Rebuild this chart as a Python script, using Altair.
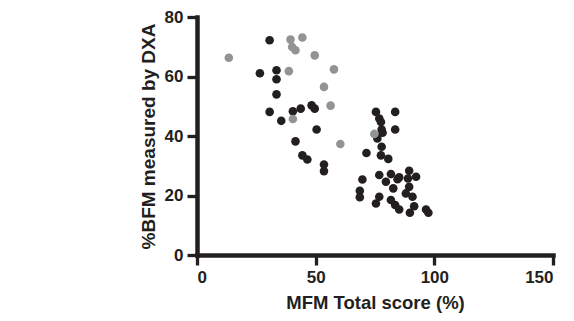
import altair as alt
import pandas as pd

gray_x = [13.4, 39.4, 44.4, 40.1, 41.5, 49.6, 57.7, 38.7, 53.5, 56.3, 40.4, 60.4, 74.7]
gray_y = [66.3, 72.4, 73.1, 69.9, 68.8, 67.1, 62.4, 61.8, 56.5, 50.2, 45.7, 37.3, 40.7]

black_x = [30.6, 26.5, 33.5, 33.5, 33.5, 30.6, 35.5, 40.4, 43.7, 48.3, 49.6, 50.4,
           41.5, 44.4, 46.5, 53.5, 53.5,
           75.4, 83.5, 76.8, 77.5, 77.8, 78.2, 83.5, 76.0, 77.8, 71.4, 77.5, 80.6,
           76.8, 81.7, 85.2, 89.4, 92.3, 88.9, 79.6, 82.7, 89.4, 88.0, 69.7, 68.6,
           68.6, 76.8, 75.4, 81.7, 83.5, 85.2, 90.8, 91.5, 89.7, 96.5, 97.5, 84.5]
black_y = [72.2, 61.1, 62.1, 59.1, 54.0, 48.1, 45.1, 48.3, 49.2, 50.3, 49.2, 42.2,
           38.2, 33.5, 32.1, 30.4, 28.2,
           48.1, 48.1, 45.9, 44.7, 42.2, 41.1, 42.2, 39.2, 36.4, 34.3, 33.5, 32.3,
           26.9, 27.2, 26.1, 28.3, 26.3, 25.7, 24.6, 22.4, 22.9, 20.7, 25.4, 21.6,
           19.4, 19.6, 17.3, 18.5, 16.8, 15.3, 19.6, 16.4, 14.2, 15.3, 14.2, 25.5]

df = pd.DataFrame({
    "x": black_x + gray_x,
    "y": black_y + gray_y,
    "g": ["black"] * len(black_x) + ["gray"] * len(gray_x),
})

chart = alt.Chart(df).mark_circle(size=74, opacity=1).encode(
    x=alt.X("x:Q", scale=alt.Scale(domain=[0, 150], nice=False),
            axis=alt.Axis(values=[0, 50, 100, 150], title="MFM Total score (%)",
                          titleFontSize=18.5, titlePadding=8)),
    y=alt.Y("y:Q", scale=alt.Scale(domain=[0, 80], nice=False),
            axis=alt.Axis(values=[0, 20, 40, 60, 80], title="%BFM measured by DXA",
                          titleFontSize=19, titlePadding=6)),
    color=alt.Color("g:N", scale=alt.Scale(domain=["black", "gray"], range=["#231f20", "#939393"]), legend=None),
).properties(
    width=356, height=238,
    autosize=alt.AutoSizeParams(type="none"),
    padding={"left": 189, "top": 9, "right": 10, "bottom": 60},
).configure_view(stroke=None).configure_axis(
    grid=False,
    domainColor="#231f20", domainWidth=4.5, domainCap="square",
    tickColor="#231f20", tickWidth=3.3, tickSize=10,
    labelFont="Liberation Sans", labelFontWeight="bold", labelFontSize=17, labelColor="#231f20",
    labelPadding=4,
    titleFont="Liberation Sans", titleFontWeight="bold", titleColor="#231f20",
)

chart.save("out.html", embed_options={"renderer": "svg", "actions": False})
